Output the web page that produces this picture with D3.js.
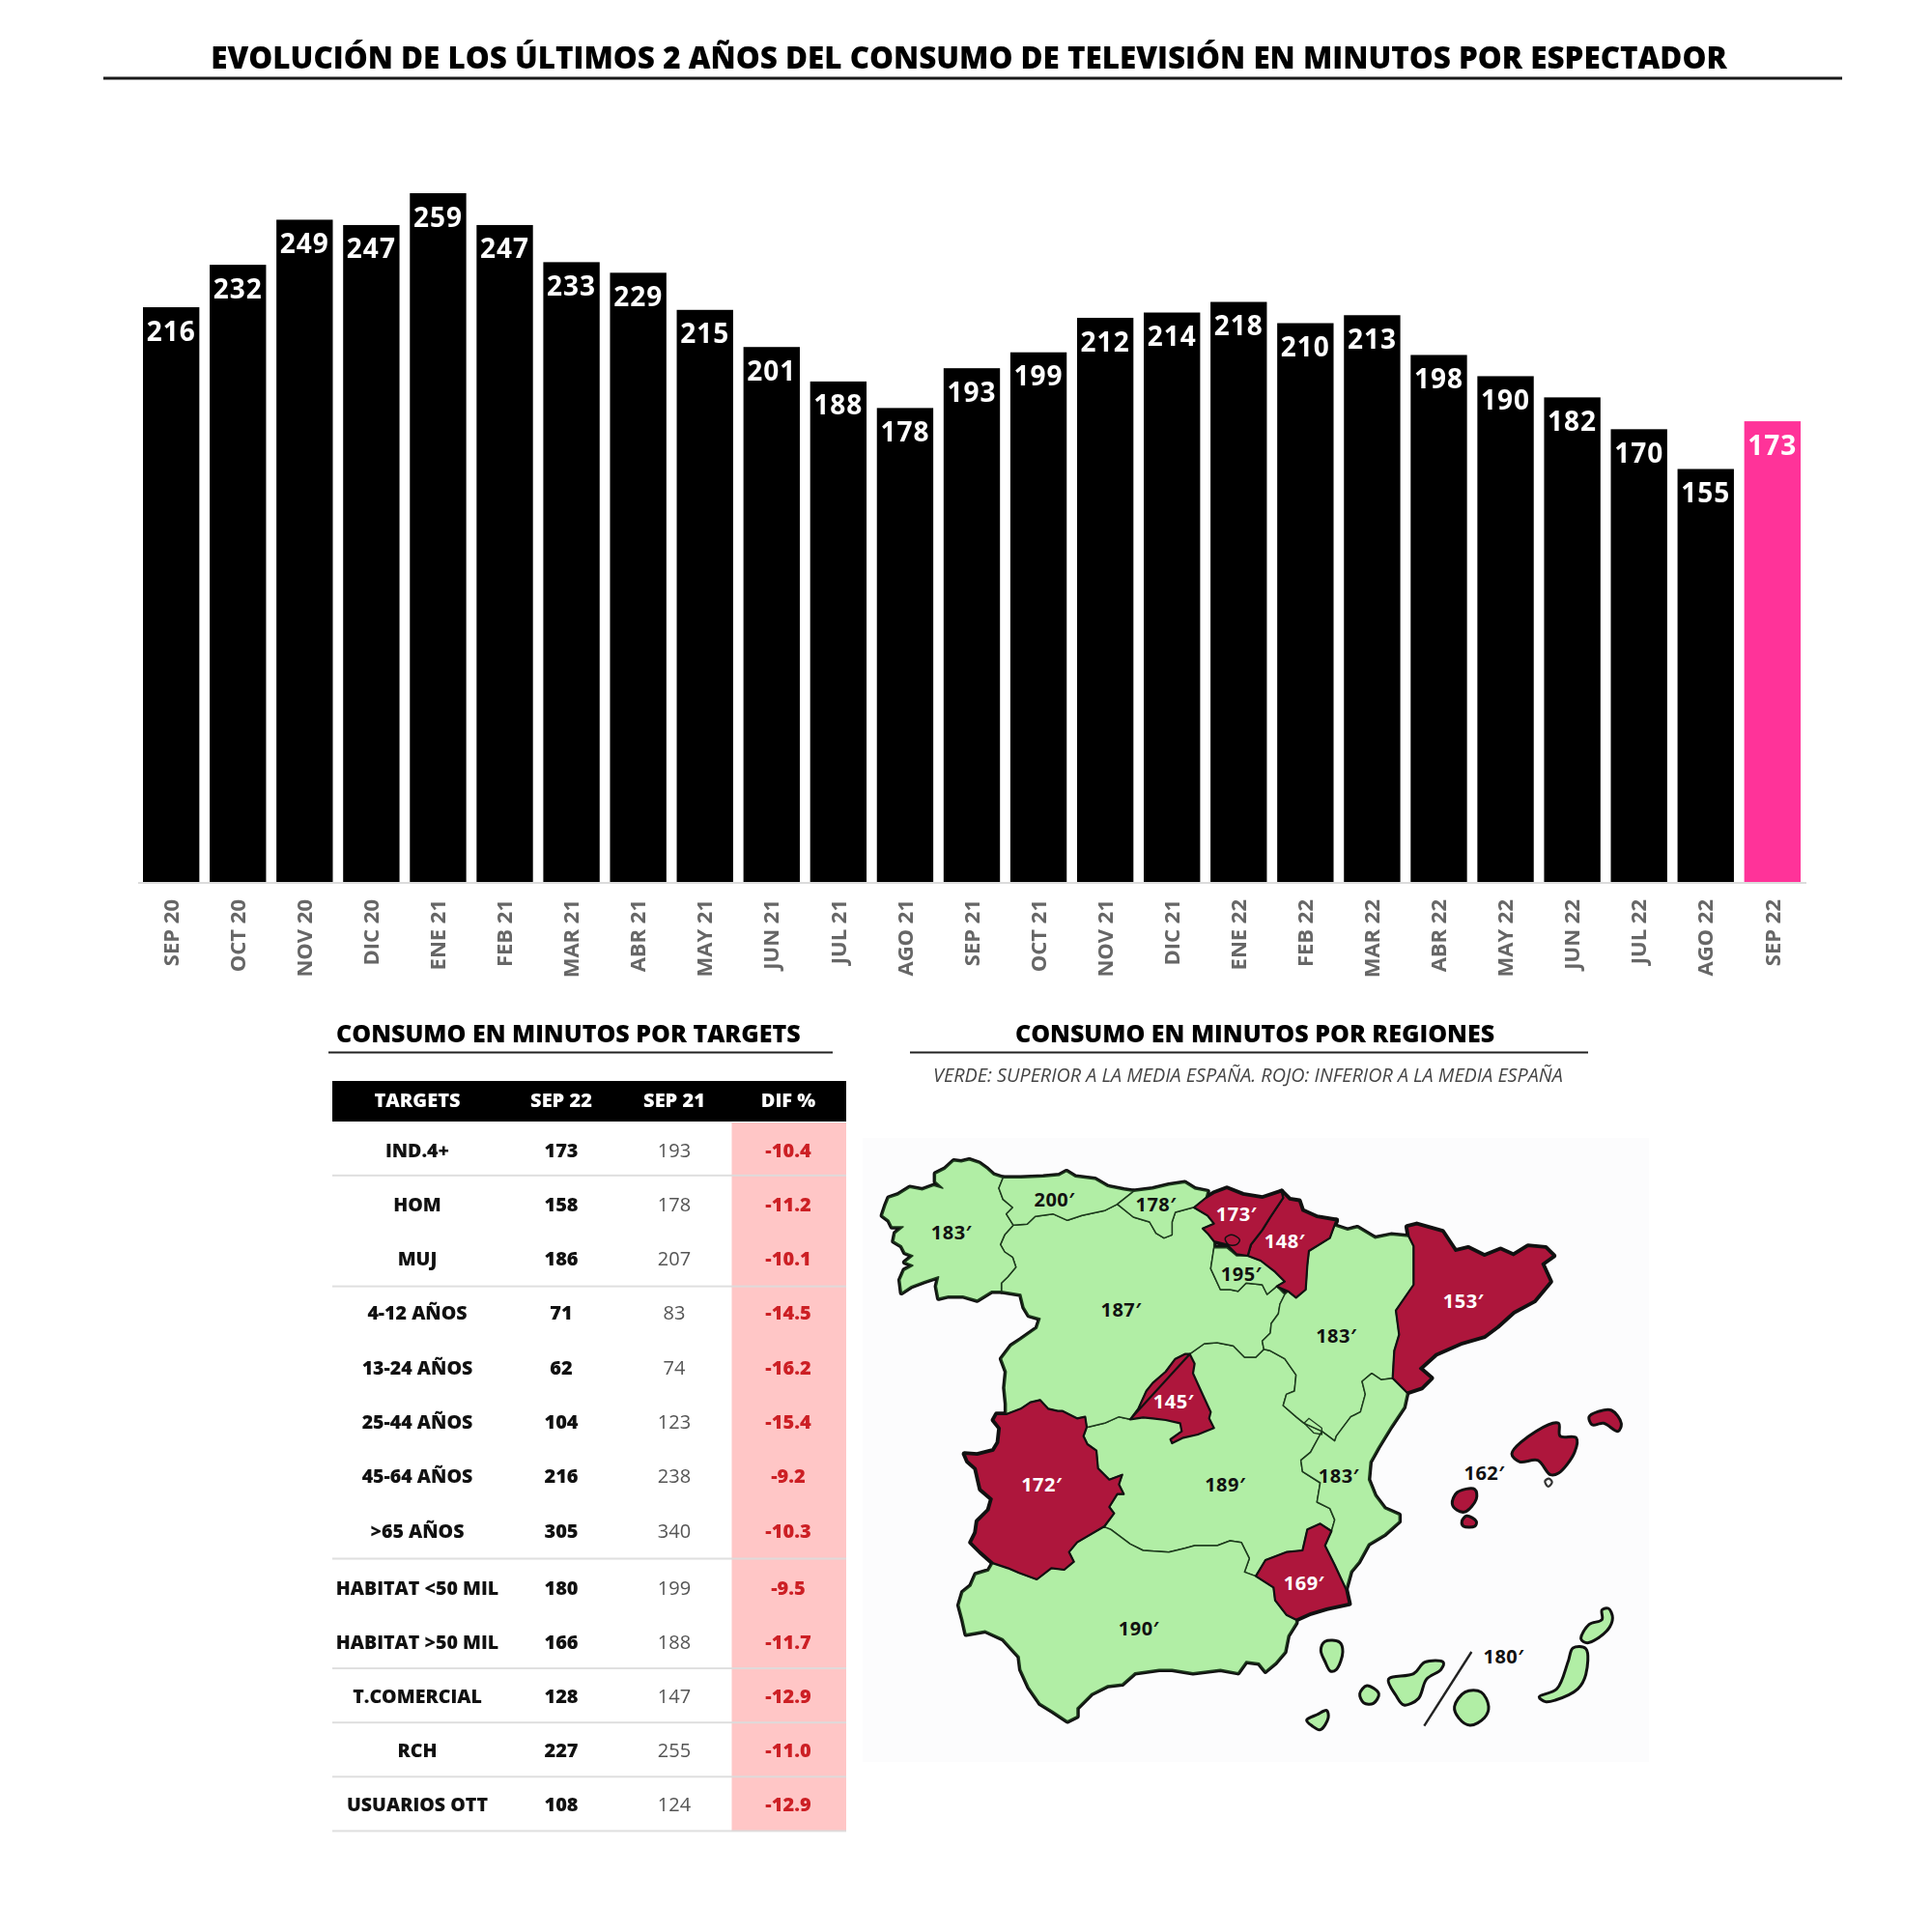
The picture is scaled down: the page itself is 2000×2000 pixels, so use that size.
<!DOCTYPE html>
<html><head><meta charset="utf-8">
<script src="https://cdn.jsdelivr.net/npm/d3@7/dist/d3.min.js"></script>
<style>
html,body{margin:0;padding:0;background:#fff}
svg{display:block;filter:blur(.55px)}
text{font-family:"Open Sans",sans-serif}
</style></head><body>
<svg id="c" width="2000" height="2000"></svg>
<script>
const months=["SEP 20","OCT 20","NOV 20","DIC 20","ENE 21","FEB 21","MAR 21","ABR 21","MAY 21","JUN 21","JUL 21","AGO 21","SEP 21","OCT 21","NOV 21","DIC 21","ENE 22","FEB 22","MAR 22","ABR 22","MAY 22","JUN 22","JUL 22","AGO 22","SEP 22"];
const minutes=[216,232,249,247,259,247,233,229,215,201,188,178,193,199,212,214,218,210,213,198,190,182,170,155,173];

const targets=["IND.4+","HOM","MUJ","4-12 AÑOS","13-24 AÑOS","25-44 AÑOS","45-64 AÑOS",">65 AÑOS","HABITAT <50 MIL","HABITAT >50 MIL","T.COMERCIAL","RCH","USUARIOS OTT"];
const sep22=[173,158,186,71,62,104,216,305,180,166,128,227,108];
const sep21=[193,178,207,83,74,123,238,340,199,188,147,255,124];
const dif=["-10.4","-11.2","-10.1","-14.5","-16.2","-15.4","-9.2","-10.3","-9.5","-11.7","-12.9","-11.0","-12.9"];
const rowTextY=[933,977,1021,1065,1109,1153,1197,1242,1288,1332,1376,1420,1464];
const rowRules=[954,1044,1265,1354,1398,1442,1486];
const headers=["TARGETS","SEP 22","SEP 21","DIF %"];

const regionNames=["Galicia","Asturias","Cantabria","CastillaLeon","LaRioja","CastillaMancha","Andalucia","Valencia","Aragon","Navarra","PaisVasco","Cataluna","Madrid","Extremadura","Murcia"];
const regionValues=[183,200,178,187,195,189,190,183,183,148,173,153,145,172,169];
const regionIsLow=[0,0,0,0,0,0,0,0,0,1,1,1,1,1,1];
const islesValue=[162,180];

const crop=(ox,oy,pts)=>pts.map(([a,b])=>[ox+a/3,oy+b/3]);
const A=(p)=>crop(900,1190,p),B=(p)=>crop(1280,1240,p),C=(p)=>crop(980,1520,p),D=(p)=>crop(960,1390,p),E=(p)=>crop(1260,1480,p),F=(p)=>crop(1340,1650,p),G=(p)=>crop(1220,1220,p);
const rev=a=>a.slice().reverse();

const galCoast=A([[415,88],[385,78],[365,60],[340,42],[310,32],[285,38],[262,35],[235,60],[205,75],[205,100],[228,120],[200,112],[165,125],[125,118],[90,140],[60,150],[50,175],[40,205],[60,220],[70,240],[105,240],[80,260],[75,285],[100,300],[110,320],[135,330],[110,350],[135,360],[108,375],[95,405],[100,445],[130,425],[170,410],[215,395],[208,425],[215,462],[245,455],[290,455],[335,468],[380,440],[410,440]]);
const galBorder1=A([[415,88],[402,120],[415,155],[445,180],[425,200],[447,235]]);
const galBorder2=A([[447,235],[420,265],[407,295],[420,318],[445,335],[455,365],[430,395],[410,415],[410,440]]);
const astCoast=A([[415,88],[470,88],[540,85],[590,80],[612,68],[640,85],[700,92],[740,115],[790,125],[820,130]]);
const astCyl=A([[447,235],[490,232],[515,208],[570,200],[615,220],[660,205],[730,190],[770,170]]);
const astCan=A([[770,170],[820,130]]);
const canCoast=A([[820,130],[880,122],[930,110],[980,103],[1010,122],[1050,130]]);
const canCyl=A([[1005,180],[950,195],[940,225],[940,265],[915,275],[890,260],[870,225],[820,210],[770,170]]);
const pvCoast=G([[48,90],[85,60],[110,45],[150,30],[200,50],[260,60],[320,40]]);
const pvNav=G([[320,40],[325,60],[285,120],[260,160],[225,205],[215,240]]);
const pvSouth=G([[215,240],[180,235],[150,205],[110,195],[90,170],[75,155],[110,140],[90,115],[48,90]]);
const navCoast=G([[320,40],[345,65],[375,70],[385,100],[430,120],[490,130]]);
const navAra=G([[490,130],[470,185],[405,225],[400,270],[395,345],[365,370],[340,350]]);
const navRioja=G([[340,350],[305,335],[330,320],[300,290],[255,255],[215,240]]);
const riojaTop=G([[110,215],[150,215],[180,240],[215,240]]);
const riojaRest=G([[305,335],[275,360],[260,330],[210,325],[185,350],[160,345],[130,345],[100,280],[110,215]]);
const cylAra=[...G([[330,360]]),...B([[135,330],[130,360],[108,390],[105,420],[80,445],[85,470]])];
const cylClm=D([[1045,20],[1020,45],[985,45],[950,10],[900,0],[860,3],[815,35]]);
const cylMad=D([[815,35],[800,35],[770,50],[740,90],[700,125],[680,150],[655,205],[630,238]]);
const madRest=D([[630,238],[670,232],[700,235],[740,240],[785,250],[790,275],[755,300],[760,312],[795,295],[840,285],[890,265],[875,235],[880,215],[850,150],[825,95],[830,65],[815,35]]);
const cylClm2=D([[630,238],[595,230],[550,250],[500,262]]);
const extN=D([[495,262],[490,230],[465,235],[420,212],[405,212],[375,205],[350,178],[320,185],[290,205],[245,222]]);
const extW=D([[245,222],[215,222],[205,240],[225,265],[220,310],[205,335],[155,348],[115,345],[125,368],[150,390],[165,455],[200,485],[190,520],[155,555],[150,590],[135,620],[165,650],[205,685]]);
const extAnd=D([[205,685],[250,700],[285,715],[340,735],[385,700],[425,705],[455,680],[440,650],[465,620],[550,570]]);
const extClm=D([[550,570],[580,530],[565,510],[590,470],[610,470],[595,440],[605,410],[565,425],[530,390],[525,335],[497,315],[485,290],[495,262]]);
const cylWest=[...A([[410,440],[470,450],[480,490],[495,515],[530,525],[520,555],[470,590],[440,610],[410,650],[425,690],[420,740],[425,790]]),...D([[245,222]])];
const andCoast=C([[145,292],[130,318],[90,330],[75,365],[50,385],[38,425],[50,470],[60,515],[120,505],[175,530],[225,585],[230,625],[255,680],[290,730],[330,755],[375,785],[405,770],[405,745],[450,700],[500,675],[545,670],[585,635],[660,625],[700,625],[765,635],[850,625],[905,635],[930,600],[970,605],[990,630],[1020,605],[1050,570],[1060,520],[1085,480]]);
const andMur=E([[245,590],[215,575],[180,530],[175,490],[120,455]]);
const andClm=C([[960,335],[925,322],[940,280],[915,230],[880,225],[840,240],[770,240],[740,248],[690,260],[610,255],[570,235],[510,190],[480,178]]);
const murN=E([[120,455],[150,405],[215,380],[265,375],[280,310],[320,292],[355,315]]);
const murVal=E([[355,315],[335,360],[365,420],[400,495]]);
const murCoast=E([[400,495],[410,540],[340,555],[290,570],[245,590]]);
const valCoast=[...B([[530,605],[520,650],[480,710],[440,775],[415,820]]),...E([[470,155],[490,205],[520,245],[565,265],[565,285],[520,325],[470,355],[440,410],[415,440],[400,495]])];
const valClm=[...E([[355,315],[365,280],[350,245],[310,225],[320,165],[265,130],[260,95],[290,70],[320,15]]),...B([[265,725]])];
const clmAra=B([[85,470],[105,475],[150,500],[185,550],[180,600],[155,610],[145,645],[185,680],[210,700],[265,725]]);
const araVal=B([[485,560],[450,565],[420,545],[390,570],[400,610],[385,665],[355,680],[310,740],[305,755],[265,725]]);
const araNorth=B([[300,85],[345,100],[375,92],[430,125],[480,115],[535,120]]);
const araCat=B([[535,120],[550,150],[550,270],[495,350],[505,425],[490,475],[485,560]]);
const catCoast=B([[535,120],[530,90],[560,82],[640,105],[680,165],[720,155],[770,180],[820,160],[860,178],[905,150],[960,155],[985,180],[950,205],[975,260],[925,320],[860,355],[810,400],[770,430],[700,450],[620,485],[570,530],[605,560],[575,590],[530,605],[485,560]]);

const shapes={
Galicia:[...galCoast,...rev(galBorder2),...rev(galBorder1)],
Asturias:[...astCoast,...rev(astCan),...rev(astCyl),...rev(galBorder1)],
Cantabria:[...canCoast,...G([[85,60],[48,90]]),...canCyl,...astCan],
CastillaLeon:[...astCyl,...rev(canCyl),...G([[48,90],[90,115],[110,140],[75,155],[90,170],[110,195]]),...rev(riojaRest),...cylAra,...cylClm,...cylMad,...cylClm2,...extN,...rev(cylWest),...rev(galBorder2)],
LaRioja:[...riojaTop,...rev(navRioja),...riojaRest],
CastillaMancha:[...cylMad.slice(0,1),...rev(cylClm),...clmAra,...rev(valClm),...rev(murN),...andClm,...extClm,...rev(cylClm2)],
Andalucia:[...andCoast,...andMur,...andClm,...rev(extAnd)],
Valencia:[...valCoast,...rev(murVal),...valClm,...rev(araVal)],
Aragon:[...araNorth,...araCat,...araVal,...rev(clmAra),...rev(cylAra),...rev(navAra)],
Navarra:[...navCoast,...navAra,...navRioja,...rev(pvNav)],
PaisVasco:[...pvCoast,...pvNav,...pvSouth],
Cataluna:[...catCoast,...rev(araCat)],
Madrid:[...rev(cylMad),...madRest],
Extremadura:[...extN,...extW,...extAnd,...extClm],
Murcia:[...murN,...murVal,...murCoast,...andMur]
};
const balearShapes=[
B([[855,795],[930,725],[1000,700],[1005,740],[1055,745],[1050,790],[1000,855],[975,860],[935,815],[880,820]]),
B([[1095,680],[1120,665],[1165,660],[1195,700],[1185,725],[1140,700],[1105,705]]),
E([[730,230],[745,195],[800,185],[805,215],[770,255],[745,250]]),
E([[760,285],[775,268],[805,285],[800,300],[765,300]])
];
const cabrera=E([[1018,160],[1030,152],[1040,163],[1028,177]]);
const canaryShapes=[
F([[82,175],[95,148],[140,150],[150,180],[130,235],[112,240],[95,210]]),
F([[203,310],[225,285],[262,310],[245,340],[215,338]]),
F([[292,265],[370,248],[405,212],[462,212],[455,235],[410,265],[385,325],[340,345],[315,315]]),
F([[38,392],[70,375],[100,362],[105,385],[80,422],[55,410]]),
F([[497,350],[530,305],[580,305],[603,350],[590,385],[545,408],[510,385]]),
F([[760,320],[815,295],[850,210],[865,168],[905,170],[905,250],[880,295],[810,330],[780,335]]),
F([[890,140],[915,95],[955,80],[955,50],[975,45],[988,75],[970,115],[910,152]])
];
const trevino=G([[145,185],[165,175],[190,190],[180,205],[155,205]]);
const ademuz=B([[210,700],[225,685],[265,715],[265,735],[240,730]]);
const canarySlash=F([[550,180],[403,410]]);
const mapLabelAnchors={Galicia:A([[255,258]]),Asturias:A([[575,155]]),Cantabria:A([[890,170]]),PaisVasco:G([[180,110]]),Navarra:G([[330,195]]),LaRioja:G([[195,298]]),CastillaLeon:A([[782,497]]),Aragon:B([[310,430]]),Cataluna:B([[705,322]]),Madrid:D([[765,183]]),Extremadura:D([[355,440]]),CastillaMancha:D([[925,440]]),Valencia:E([[378,145]]),Murcia:E([[270,478]]),Andalucia:C([[597,497]])};
const isleLabelAnchors=[E([[830,135]]),E([[890,705]])];

const svg=d3.select("#c");
const GREEN="#b1eea5",RED="#ae163c";

/* titles */
svg.append("text").attr("x",1003).attr("y",71).attr("text-anchor","middle")
 .attr("font-size",31.4).attr("font-weight",800).text("EVOLUCIÓN DE LOS ÚLTIMOS 2 AÑOS DEL CONSUMO DE TELEVISIÓN EN MINUTOS POR ESPECTADOR");
svg.append("rect").attr("x",107).attr("y",79.5).attr("width",1800).attr("height",3).attr("fill","#1a1a1a");

/* bars */
const x=d3.scaleBand().domain(months).range([148,1864]).paddingInner(0.155).paddingOuter(0);
const y=d3.scaleLinear().domain([0,259]).range([911,200]);
svg.append("rect").attr("x",143).attr("y",913).attr("width",1727).attr("height",2).attr("fill","#dcdcdc");
svg.append("g").selectAll("rect").data(months).join("rect")
 .attr("x",d=>x(d)).attr("width",x.bandwidth())
 .attr("y",(d,i)=>y(minutes[i])).attr("height",(d,i)=>913-y(minutes[i]))
 .attr("fill",(d,i)=>i===months.length-1?"#ff3399":"#000");
svg.append("g").selectAll("text").data(months).join("text")
 .attr("x",d=>x(d)+x.bandwidth()/2).attr("y",(d,i)=>y(minutes[i])+34.5)
 .attr("text-anchor","middle").attr("fill","#fff").attr("font-size",28).attr("font-weight",700)
 .attr("letter-spacing",1).text((d,i)=>minutes[i]);
const ax=svg.append("g").attr("transform","translate(0,913)").call(d3.axisBottom(x).tickSize(0));
ax.select(".domain").remove();
ax.selectAll("text").attr("transform","rotate(-90)").attr("x",-18).attr("y",0).attr("dy","0.35em")
 .attr("text-anchor","end").attr("fill","#666").attr("font-size",22).attr("font-weight",700)
 .style("font-family",'"Open Sans",sans-serif');

/* section titles */
svg.append("text").attr("x",348).attr("y",1079).attr("font-size",25).attr("font-weight",800).text("CONSUMO EN MINUTOS POR TARGETS");
svg.append("rect").attr("x",340).attr("y",1088.5).attr("width",522).attr("height",2).attr("fill","#222");
svg.append("text").attr("x",1299).attr("y",1079).attr("text-anchor","middle").attr("font-size",25).attr("font-weight",800).text("CONSUMO EN MINUTOS POR REGIONES");
svg.append("rect").attr("x",942).attr("y",1088.5).attr("width",702).attr("height",2).attr("fill","#222");
svg.append("text").attr("x",1292).attr("y",1119.5).attr("text-anchor","middle").attr("font-size",19.8).attr("font-style","italic").attr("fill","#444")
 .text("VERDE: SUPERIOR A LA MEDIA ESPAÑA. ROJO: INFERIOR A LA MEDIA ESPAÑA");

/* table */
const disp=d3.scaleLinear().domain([0,1568]).range([0,2000]);
const cols=d3.scaleOrdinal().domain(headers).range([432,581,698,816]);
svg.append("rect").attr("x",344).attr("y",1119).attr("width",532).attr("height",42).attr("fill","#000");
svg.append("rect").attr("x",757.5).attr("y",1162).attr("width",118.5).attr("height",734).attr("fill","#ffc6c6");
svg.append("g").selectAll("rect").data(rowRules).join("rect")
 .attr("x",344).attr("width",532).attr("y",d=>disp(d)-1).attr("height",2).attr("fill","#dcdcdc").attr("opacity",.9);
svg.append("g").selectAll("text").data(headers).join("text")
 .attr("x",d=>cols(d)).attr("y",1146).attr("text-anchor","middle").attr("fill","#fff").attr("font-size",20).attr("font-weight",800).text(d=>d);
const rows=svg.append("g").selectAll("g").data(targets).join("g").attr("transform",(d,i)=>`translate(0,${disp(rowTextY[i])+8})`);
rows.append("text").attr("x",cols("TARGETS")).attr("text-anchor","middle").attr("font-size",19.6).attr("font-weight",800).attr("fill","#111").text(d=>d);
rows.append("text").attr("x",cols("SEP 22")).attr("text-anchor","middle").attr("font-size",20).attr("font-weight",800).attr("fill","#111").text((d,i)=>sep22[i]);
rows.append("text").attr("x",cols("SEP 21")).attr("text-anchor","middle").attr("font-size",20).attr("fill","#555").text((d,i)=>sep21[i]);
rows.append("text").attr("x",cols("DIF %")).attr("text-anchor","middle").attr("font-size",20).attr("font-weight",800).attr("fill","#cc1f24").text((d,i)=>dif[i]);

/* map */
const mx=d3.scaleIdentity(),my=d3.scaleIdentity();
const line=d3.line().x(d=>mx(d[0])).y(d=>my(d[1])).curve(d3.curveLinearClosed);
const soft=d3.line().x(d=>mx(d[0])).y(d=>my(d[1])).curve(d3.curveCatmullRomClosed.alpha(.5));
const open=d3.line().x(d=>mx(d[0])).y(d=>my(d[1]));
svg.append("rect").attr("x",893).attr("y",1178).attr("width",814).attr("height",646).attr("fill","#fcfcfd");
const base=svg.append("g");
base.selectAll("path").data(regionNames).join("path").attr("d",d=>line(shapes[d])).attr("fill","#111").attr("stroke","#111").attr("stroke-width",5.5).attr("stroke-linejoin","round");
const m=svg.append("g");
const greens=["CastillaMancha","CastillaLeon","Galicia","Asturias","Cantabria","LaRioja","Andalucia","Aragon","Valencia"];
m.append("g").selectAll("path").data(greens).join("path").attr("d",d=>line(shapes[d])).attr("fill",GREEN).attr("stroke","#1d3a1d").attr("stroke-width",1.5).attr("stroke-linejoin","round");
m.append("path").attr("d",line(ademuz)).attr("fill","none").attr("stroke","#1d3a1d").attr("stroke-width",1.3);
const low=regionNames.filter((d,i)=>regionIsLow[i]);
m.append("g").selectAll("path").data(low).join("path").attr("d",d=>line(shapes[d])).attr("fill",RED).attr("stroke","#111").attr("stroke-width",2.2).attr("stroke-linejoin","round");
m.append("path").attr("d",soft(trevino)).attr("fill","none").attr("stroke","#111").attr("stroke-width",1.5);
m.append("g").selectAll("path").data(balearShapes).join("path").attr("d",soft).attr("fill",RED).attr("stroke","#111").attr("stroke-width",3).attr("stroke-linejoin","round");
m.append("path").attr("d",soft(cabrera)).attr("fill","#fff").attr("stroke","#333").attr("stroke-width",2.2);
m.append("g").selectAll("path").data(canaryShapes).join("path").attr("d",soft).attr("fill",GREEN).attr("stroke","#111").attr("stroke-width",3).attr("stroke-linejoin","round");
m.append("path").attr("d",open(canarySlash)).attr("stroke","#222").attr("stroke-width",2.4).attr("fill","none");
const labels=m.append("g").attr("text-anchor","middle").attr("font-size",20).attr("font-weight",700).attr("letter-spacing",.5);
labels.selectAll(".l").data(regionNames).join("text").attr("class","l")
 .attr("x",d=>mx(mapLabelAnchors[d][0][0])).attr("y",d=>my(mapLabelAnchors[d][0][1])+7)
 .attr("fill",(d,i)=>regionIsLow[i]?"#fff":"#111").text((d,i)=>regionValues[i]+"′");
labels.selectAll(".i").data(islesValue).join("text").attr("class","i")
 .attr("x",(d,i)=>mx(isleLabelAnchors[i][0][0])).attr("y",(d,i)=>my(isleLabelAnchors[i][0][1])+7)
 .attr("fill","#111").text(d=>d+"′");
</script></body></html>
